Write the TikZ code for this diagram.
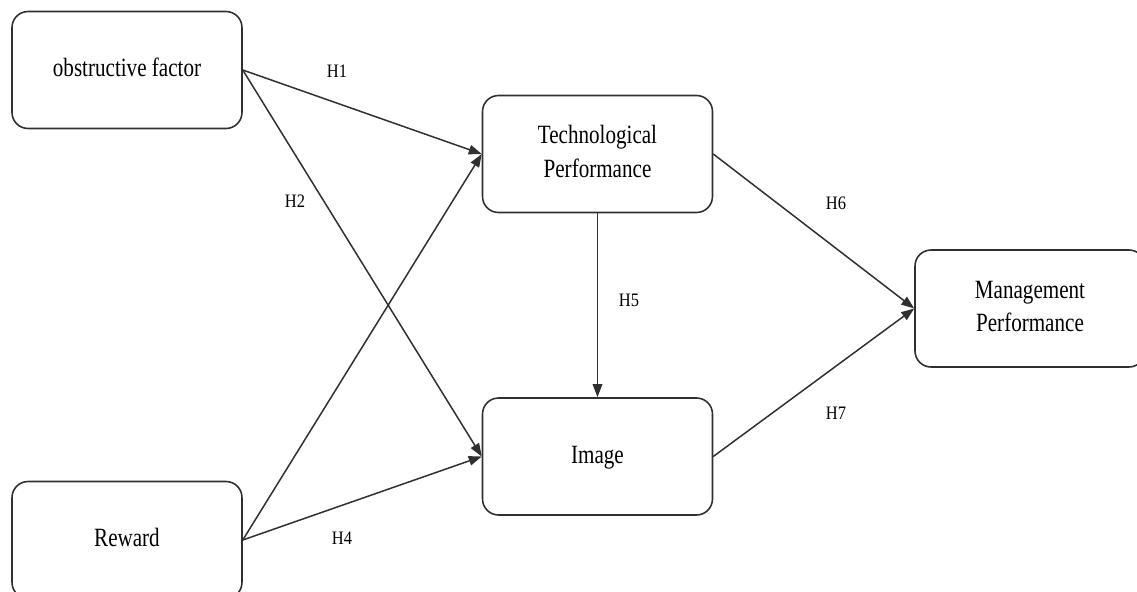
\documentclass[tikz,border=0pt]{standalone}
\usepackage{fontspec}
\setmainfont{Liberation Serif}
\usetikzlibrary{arrows.meta}

\definecolor{edgegray}{HTML}{303030}
\newcommand{\vstretch}[2]{\scalebox{1}[#1]{\begin{tabular}{@{}c@{}}#2\end{tabular}}}

\begin{document}
\begin{tikzpicture}[x=0.02cm, y=-0.02cm,
	factor/.style={draw=edgegray, line width=0.9pt, rounded corners=0.32cm, minimum width=4.6cm, minimum height=2.34cm, inner sep=0pt, font=\fontsize{12}{15.2}\selectfont},
	hyp/.style={inner sep=0pt, font=\fontsize{9.4}{11}\selectfont},
	link/.style={draw=edgegray, line width=0.85pt, -{Triangle[length=0.26cm, width=0.19cm]}}]
				\clip (0,0) rectangle (1137,592);

				% constructs
				\node[factor] (obstr) at (127, 70) {\vstretch{1.25}{obstructive factor}};
				\node[factor] (reward) at (127, 540) {\vstretch{1.25}{Reward}};
				\node[factor] (techperf) at (597.5, 154) {\vstretch{1.25}{Technological\\Performance}};
				\node[factor] (image) at (597.5, 456.5) {\vstretch{1.25}{Image}};
				\node[factor] (mgmtperf) at (1030, 308.5) {\vstretch{1.25}{Management\\Performance}};

				% hypotheses
				\draw[link] (obstr.east) -- (techperf.west);
				\draw[link] (obstr.east) -- (image.west);
				\draw[link] (reward.east) -- (techperf.west);
				\draw[link] (reward.east) -- (image.west);
				\draw[link] (techperf.south) -- (image.north);
				\draw[link] (techperf.east) -- (mgmtperf.west);
				\draw[link] (image.east) -- (mgmtperf.west);

				\node[hyp] (h1) at (337, 73) {\vstretch{1.15}{H1}};
				\node[hyp] (h2) at (295, 203) {\vstretch{1.15}{H2}};
				\node[hyp] (h4) at (342, 540) {\vstretch{1.15}{H4}};
				\node[hyp] (h5) at (629, 302) {\vstretch{1.15}{H5}};
				\node[hyp] (h6) at (836, 205) {\vstretch{1.15}{H6}};
				\node[hyp] (h7) at (836, 415) {\vstretch{1.15}{H7}};
\end{tikzpicture}
\end{document}
